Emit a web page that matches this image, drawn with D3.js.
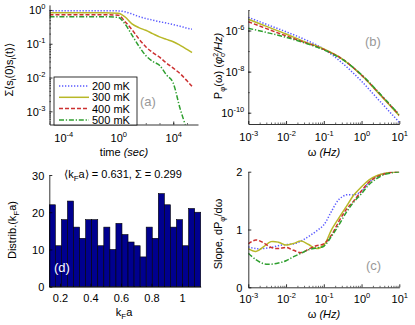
<!DOCTYPE html>
<meta charset="utf-8">
<title>Spin correlation, noise spectrum and k_F a distribution</title>
<style>
    body { margin: 0; background: #fff; }
    svg text { font-family: "Liberation Sans", Arial, sans-serif; }
</style>
<body>
<script src="https://cdn.jsdelivr.net/npm/d3@7"></script>
<script>
    /* series labels and styles */
    var temps = ["200 mK", "300 mK", "400 mK", "500 mK"];
    var lineColors = ["#5a5aff", "#b8b828", "#cc3030", "#2f9f2f"];
    var lineDash = ["1.3,1.7", "none", "4,2", "5,1.8,1.3,1.8"];

    /* (a) correlation vs log10(time / s) */
    var corrLogT = [-5, -1, 0, 0.5, 1, 1.5, 2, 2.5, 3, 3.5, 4, 4.5, 5, 5.36];
    var corr200 = [0.95, 0.95, 0.94, 0.88, 0.76, 0.64, 0.56, 0.50, 0.45, 0.41, 0.37, 0.33, 0.29, 0.27];
    var corr300 = [0.83, 0.83, 0.80, 0.62, 0.39, 0.30, 0.25, 0.20, 0.16, 0.135, 0.115, 0.09, 0.068, 0.055];
    var corr400 = [0.72, 0.72, 0.70, 0.45, 0.26, 0.14, 0.082, 0.055, 0.040, 0.027, 0.019, 0.013, 0.008, 0.0055];
    var corr500 = [0.63, 0.63, 0.60, 0.38, 0.18, 0.085, 0.045, 0.030, 0.023, 0.012, 0.0068, 0.0012, 0.0003, 0.00015];
    var corrTicksExp = [-4, 0, 4];
    var corrYTicksExp = [-3, -2, -1, 0];

    /* (b) log10 of power spectrum vs log10(omega / Hz) */
    var psdLogW = [-3, -2.5, -2, -1.5, -1, -0.5, 0, 0.5, 1];
    var psd200 = [-5.36, -5.71, -6.06, -6.44, -6.90, -7.60, -8.47, -9.47, -10.47];
    var psd300 = [-5.45, -5.81, -6.17, -6.55, -6.90, -7.40, -8.18, -9.15, -10.15];
    var psd400 = [-5.57, -5.92, -6.26, -6.58, -6.92, -7.40, -8.17, -9.12, -10.12];
    var psd500 = [-5.89, -6.10, -6.33, -6.61, -6.94, -7.42, -8.15, -9.10, -10.10];
    var freqTicksExp = [-3, -2, -1, 0, 1];
    var psdYTicksExp = [-10, -8, -6];

    /* (c) slope vs log10(omega / Hz) */
    var slopeLogW = [-3, -2.8, -2.6, -2.4, -2.2, -2, -1.8, -1.6, -1.4, -1.2, -1, -0.8, -0.6, -0.4, -0.2, 0, 0.2, 0.4, 0.6, 0.8, 1];
    var slope200 = [0.70, 0.67, 0.67, 0.69, 0.72, 0.74, 0.75, 0.80, 0.88, 0.97, 1.08, 1.31, 1.52, 1.60, 1.60, 1.66, 1.82, 1.92, 1.97, 1.99, 2.0];
    var slope300 = [0.67, 0.62, 0.70, 0.79, 0.78, 0.73, 0.76, 0.80, 0.74, 0.67, 0.73, 0.99, 1.20, 1.40, 1.60, 1.74, 1.86, 1.93, 1.97, 1.99, 2.0];
    var slope400 = [0.75, 0.82, 0.77, 0.69, 0.67, 0.69, 0.64, 0.60, 0.66, 0.72, 0.75, 0.90, 1.14, 1.35, 1.50, 1.67, 1.82, 1.91, 1.96, 1.99, 2.0];
    var slope500 = [0.59, 0.48, 0.41, 0.40, 0.42, 0.46, 0.53, 0.59, 0.65, 0.68, 0.71, 0.88, 1.08, 1.30, 1.48, 1.62, 1.78, 1.88, 1.95, 1.98, 2.0];
    var slopeTicks = [0, 1, 2];

    /* (d) histogram of k_F a */
    var histCounts = [22, 11, 18, 23, 16, 13, 18, 18, 11, 16, 10, 17, 14, 12, 11, 8, 16, 13, 25, 22, 16, 18, 11, 21, 20];
    var histLo = 0.13, histHi = 1.123;
    var histXTicks = [0.2, 0.4, 0.6, 0.8, 1];
    var histYTicks = [0, 10, 20, 30];

    var width = 415, height = 325;
    var svg = d3.select("body").append("svg")
        .attr("width", width)
        .attr("height", height);

    var defs = svg.append("defs");

    /* scales */
    var xa = d3.scaleLog().domain([1e-5, Math.pow(10, 5.8)]).range([49.5, 198]);
    var ya = d3.scaleLog().domain([Math.pow(10, -3.39), Math.pow(10, 0.15)]).range([124.5, 4.9]);
    var xb = d3.scaleLog().domain([1e-3, 10]).range([248.3, 399.3]);
    var yb = d3.scaleLog().domain([Math.pow(10, -10.55), 1e-5]).range([124, 10]);
    var xc = d3.scaleLog().domain([1e-3, 10]).range([248.3, 399.3]);
    var yc = d3.scaleLinear().domain([0, 2]).range([287.3, 171.7]);
    var xd = d3.scaleLinear().domain([histLo, histHi]).range([49.3, 200.7]);
    var yd = d3.scaleLinear().domain([0, 30]).range([286.7, 175]);

    function powTen(e) { return Math.pow(10, e); }

    function logMinors(scale, step) {
        var d = scale.domain(), out = [];
        var lo = Math.floor(Math.log10(d[0])), hi = Math.ceil(Math.log10(d[1]));
        for (var k = lo; k <= hi; k++) {
            if (step) { out.push(Math.pow(10, k)); continue; }
            for (var m = 2; m <= 9; m++) {
                var v = m * Math.pow(10, k);
                if (v > d[0] && v < d[1]) out.push(v);
            }
        }
        return out.filter(function (v) { return v >= d[0] && v <= d[1]; });
    }

    function styleAxis(g) {
        g.selectAll("path").attr("stroke", "#000").attr("stroke-width", 0.8);
        g.selectAll("line").attr("stroke", "#000").attr("stroke-width", 0.8);
        g.selectAll(".tick text").remove();
    }

    function addPowLabel(sel, e, dx, dy, anchor) {
        var t = sel.append("text")
            .attr("x", dx).attr("y", dy)
            .attr("text-anchor", anchor)
            .attr("font-size", 11)
            .attr("fill", "#000");
        t.append("tspan").text("10");
        t.append("tspan").attr("dy", -5).attr("font-size", 7.5).text(e);
    }

    /* bottom axis: major values in data units, exps for 10^e labels */
    function bottomAxis(scale, y, values, labelFn, minors) {
        var g = svg.append("g").attr("transform", "translate(0," + y + ")");
        g.call(d3.axisBottom(scale).tickValues(values).tickSizeInner(-3).tickSizeOuter(0).tickFormat(""));
        styleAxis(g);
        if (minors) {
            svg.append("g").attr("transform", "translate(0," + y + ")")
                .call(d3.axisBottom(scale).tickValues(minors).tickSizeInner(-1.5).tickSizeOuter(0).tickFormat(""))
                .call(function (m) {
                    m.select("path").remove();
                    m.selectAll("line").attr("stroke", "#000").attr("stroke-width", 0.6);
                });
        }
        g.selectAll(".tick").each(function (d, i) { labelFn(d3.select(this), d, i); });
        return g;
    }

    function leftAxis(scale, x, values, labelFn, minors) {
        var g = svg.append("g").attr("transform", "translate(" + x + ",0)");
        g.call(d3.axisLeft(scale).tickValues(values).tickSizeInner(-3).tickSizeOuter(0).tickFormat(""));
        styleAxis(g);
        if (minors) {
            svg.append("g").attr("transform", "translate(" + x + ",0)")
                .call(d3.axisLeft(scale).tickValues(minors).tickSizeInner(-1.5).tickSizeOuter(0).tickFormat(""))
                .call(function (m) {
                    m.select("path").remove();
                    m.selectAll("line").attr("stroke", "#000").attr("stroke-width", 0.6);
                });
        }
        g.selectAll(".tick").each(function (d, i) { labelFn(d3.select(this), d, i); });
        return g;
    }

    function plainLabel(sel, txt, x, y, anchor) {
        sel.append("text").attr("x", x).attr("y", y)
            .attr("text-anchor", anchor).attr("font-size", 11).attr("fill", "#000")
            .text(txt);
    }

    function clipFor(id, x, y) {
        var r = x.range(), h = y.range();
        defs.append("clipPath").attr("id", id).append("rect")
            .attr("x", r[0]).attr("y", h[1])
            .attr("width", r[1] - r[0]).attr("height", h[0] - h[1]);
        return "url(#" + id + ")";
    }

    function drawSeries(xs, series, x, y, clip, curve, isLog) {
        var line = d3.line()
            .x(function (d) { return x(powTen(d[0])); })
            .y(function (d) { return y(isLog ? powTen(d[1]) : d[1]); })
            .curve(curve);
        var g = svg.append("g").attr("clip-path", clip);
        series.forEach(function (s, k) {
            g.append("path")
                .datum(xs.map(function (t, i) { return [t, s[i]]; }))
                .attr("d", line)
                .attr("fill", "none")
                .attr("stroke", lineColors[k])
                .attr("stroke-width", 1.5)
                .attr("stroke-dasharray", lineDash[k]);
        });
    }

    function rotLabel(x, y) {
        return svg.append("text")
            .attr("transform", "translate(" + x + "," + y + ") rotate(-90)")
            .attr("text-anchor", "middle")
            .attr("font-size", 11)
            .attr("fill", "#000");
    }

    function sub(t, s, after) {
        t.append("tspan").attr("dy", 3).attr("font-size", 8).text(s);
        t.append("tspan").attr("dy", -3).text(after);
    }

    /* ---------- (a) ---------- */
    var corrLines = [corr200, corr300, corr400, corr500].map(function (s) {
        return s.map(function (v) { return Math.log10(v); });
    });
    drawSeries(corrLogT, corrLines, xa, ya, clipFor("clipA", xa, ya), d3.curveMonotoneX, true);
    bottomAxis(xa, 124.5, corrTicksExp.map(powTen), function (sel, d, i) {
        addPowLabel(sel, corrTicksExp[i], 0, 17, "middle");
    }, logMinors(xa, true));
    leftAxis(ya, 49.5, corrYTicksExp.map(powTen), function (sel, d, i) {
        addPowLabel(sel, corrYTicksExp[i], -4, 4, "end");
    }, logMinors(ya));

    var ta = svg.append("text").attr("x", 124).attr("y", 156)
        .attr("text-anchor", "middle").attr("font-size", 11);
    ta.append("tspan").text("time ");
    ta.append("tspan").attr("font-style", "italic").text("(sec)");

    var la = rotLabel(13, 70);
    la.append("tspan").text("\u03A3\u27E8s");
    sub(la, "i", "(0)s");
    sub(la, "i", "(t)\u27E9");

    svg.append("text").attr("x", 140).attr("y", 106)
        .attr("font-size", 13).attr("fill", "#999").text("(a)");

    /* legend */
    var leg = svg.append("g").attr("transform", "translate(54,77)");
    leg.append("rect").attr("width", 83).attr("height", 48)
        .attr("fill", "#fff").attr("stroke", "#000").attr("stroke-width", 0.8);
    temps.forEach(function (name, k) {
        var yy = 9 + k * 11.3;
        leg.append("line").attr("x1", 5).attr("x2", 35).attr("y1", yy).attr("y2", yy)
            .attr("stroke", lineColors[k]).attr("stroke-width", 1.5)
            .attr("stroke-dasharray", lineDash[k]);
        leg.append("text").attr("x", 38).attr("y", yy + 4)
            .attr("font-size", 11).text(name);
    });

    /* ---------- (b) ---------- */
    drawSeries(psdLogW, [psd200, psd300, psd400, psd500], xb, yb, clipFor("clipB", xb, yb), d3.curveMonotoneX, true);
    bottomAxis(xb, 124, freqTicksExp.map(powTen), function (sel, d, i) {
        addPowLabel(sel, freqTicksExp[i], 0, 17, "middle");
    }, logMinors(xb));
    leftAxis(yb, 248.3, psdYTicksExp.map(powTen), function (sel, d, i) {
        addPowLabel(sel, psdYTicksExp[i], -4, 4, "end");
    }, logMinors(yb, true));

    var tb = svg.append("text").attr("x", 324).attr("y", 156)
        .attr("text-anchor", "middle").attr("font-size", 11);
    tb.append("tspan").text("\u03C9 ");
    tb.append("tspan").attr("font-style", "italic").text("(Hz)");

    var lb = rotLabel(222, 66);
    lb.append("tspan").text("P");
    sub(lb, "\u03C6", "(\u03C9)   (");
    lb.append("tspan").attr("font-style", "italic").text("\u03C6");
    lb.append("tspan").attr("dy", -4).attr("font-size", 7).text("2");
    lb.append("tspan").attr("dx", -4).attr("dy", 7).attr("font-size", 7).text("o");
    lb.append("tspan").attr("dy", -3).attr("font-style", "italic").text("/Hz)");

    svg.append("text").attr("x", 365).attr("y", 46)
        .attr("font-size", 13).attr("fill", "#999").text("(b)");

    /* ---------- (c) ---------- */
    drawSeries(slopeLogW, [slope200, slope300, slope400, slope500], xc, yc, clipFor("clipC", xc, yc), d3.curveCatmullRom, false);
    bottomAxis(xc, 287.3, freqTicksExp.map(powTen), function (sel, d, i) {
        addPowLabel(sel, freqTicksExp[i], 0, 16, "middle");
    }, logMinors(xc));
    leftAxis(yc, 248.3, slopeTicks, function (sel, d) {
        plainLabel(sel, String(d), -6, 4, "end");
    });

    var tc = svg.append("text").attr("x", 324).attr("y", 318)
        .attr("text-anchor", "middle").attr("font-size", 11);
    tc.append("tspan").text("\u03C9 ");
    tc.append("tspan").attr("font-style", "italic").text("(Hz)");

    var lc = rotLabel(222, 234);
    lc.append("tspan").text("Slope, dP");
    sub(lc, "\u03C6", "/d\u03C9");

    svg.append("text").attr("x", 366).attr("y", 270)
        .attr("font-size", 13).attr("fill", "#999").text("(c)");

    /* ---------- (d) ---------- */
    var binW = (histHi - histLo) / histCounts.length;
    svg.append("g").selectAll("rect")
        .data(histCounts)
        .enter()
        .append("rect")
        .attr("x", function (d, i) { return xd(histLo + i * binW); })
        .attr("y", function (d) { return yd(d); })
        .attr("width", function (d, i) { return xd(histLo + (i + 1) * binW) - xd(histLo + i * binW); })
        .attr("height", function (d) { return yd(0) - yd(d); })
        .attr("fill", "#00008f")
        .attr("stroke", "#000")
        .attr("stroke-width", 0.6);

    bottomAxis(xd, 286.7, histXTicks, function (sel, d) {
        plainLabel(sel, d3.format("")(d), 0, 15, "middle");
    });
    leftAxis(yd, 49.3, histYTicks, function (sel, d) {
        plainLabel(sel, String(d), -5, 4, "end");
    });

    var td = svg.append("text").attr("x", 124).attr("y", 316)
        .attr("text-anchor", "middle").attr("font-size", 11);
    td.append("tspan").text("k");
    sub(td, "F", "a");

    var ld = rotLabel(16, 230);
    ld.append("tspan").text("Distrib.(k");
    sub(ld, "F", "a)");

    var st = svg.append("text").attr("x", 123).attr("y", 178)
        .attr("text-anchor", "middle").attr("font-size", 11);
    st.append("tspan").text("\u27E8k");
    sub(st, "F", "a\u27E9 = 0.631, \u03A3 = 0.299");

    svg.append("text").attr("x", 54).attr("y", 272)
        .attr("font-size", 13).attr("fill", "#fff").text("(d)");
</script>
</body>
